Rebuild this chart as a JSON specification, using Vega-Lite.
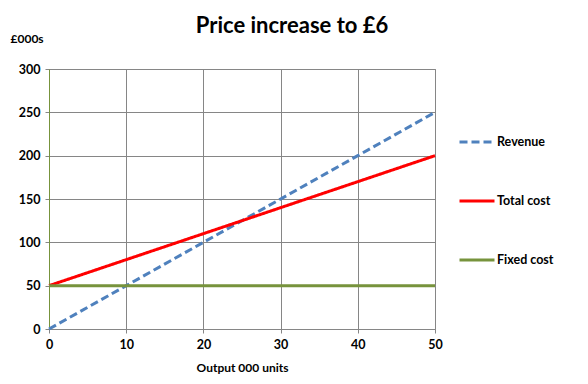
{
  "$schema": "https://vega.github.io/schema/vega-lite/v6.json",
  "width": 386,
  "height": 260,
  "autosize": {"type": "none"},
  "padding": {"left": 49, "top": 69, "right": 153, "bottom": 55},
  "background": "white",
  "title": {
    "text": "Price increase to £6",
    "font": "Lato",
    "fontSize": 22,
    "fontWeight": "bold",
    "color": "black",
    "anchor": "middle",
    "dx": 50,
    "offset": -6
  },
  "data": {
    "values": [
      {"series": "Revenue", "x": 0, "y": 0},
      {"series": "Revenue", "x": 10, "y": 50},
      {"series": "Revenue", "x": 20, "y": 100},
      {"series": "Revenue", "x": 30, "y": 150},
      {"series": "Revenue", "x": 40, "y": 200},
      {"series": "Revenue", "x": 50, "y": 250},
      {"series": "Total cost", "x": 0, "y": 50},
      {"series": "Total cost", "x": 10, "y": 80},
      {"series": "Total cost", "x": 20, "y": 110},
      {"series": "Total cost", "x": 30, "y": 140},
      {"series": "Total cost", "x": 40, "y": 170},
      {"series": "Total cost", "x": 50, "y": 200},
      {"series": "Fixed cost", "x": 0, "y": 50},
      {"series": "Fixed cost", "x": 10, "y": 50},
      {"series": "Fixed cost", "x": 20, "y": 50},
      {"series": "Fixed cost", "x": 30, "y": 50},
      {"series": "Fixed cost", "x": 40, "y": 50},
      {"series": "Fixed cost", "x": 50, "y": 50}
    ]
  },
  "mark": {"type": "line", "strokeWidth": 3},
  "encoding": {
    "x": {
      "field": "x",
      "type": "quantitative",
      "scale": {"domain": [0, 50], "nice": false},
      "axis": {
        "title": "Output 000 units",
        "values": [0, 10, 20, 30, 40, 50],
        "titlePadding": 12,
        "labelFlush": false
      }
    },
    "y": {
      "field": "y",
      "type": "quantitative",
      "scale": {"domain": [0, 300], "nice": false},
      "axis": {
        "title": "£000s",
        "values": [0, 50, 100, 150, 200, 250, 300],
        "labelFlush": false,
        "titleAngle": 0,
        "titleAlign": "left",
        "titleBaseline": "middle",
        "titleX": -39,
        "titleY": -31,
        "domainColor": "#77933C"
      }
    },
    "color": {
      "field": "series",
      "type": "nominal",
      "scale": {
        "domain": ["Revenue", "Total cost", "Fixed cost"],
        "range": ["#4F81BD", "#FF0000", "#77933C"]
      },
      "legend": {
        "title": null,
        "orient": "none",
        "legendX": 409,
        "legendY": 54,
        "symbolType": "stroke",
        "symbolSize": 1225,
        "symbolStrokeWidth": 3,
        "labelFont": "Lato",
        "labelFontSize": 12.5,
        "labelFontWeight": "bold",
        "labelColor": "black",
        "labelOffset": 1,
        "rowPadding": 33
      }
    },
    "strokeDash": {
      "field": "series",
      "type": "nominal",
      "scale": {
        "domain": ["Revenue", "Total cost", "Fixed cost"],
        "range": [[8, 4], [1, 0], [1, 0]]
      },
      "legend": null
    }
  },
  "config": {
    "view": {"stroke": "#868686"},
    "axis": {
      "gridColor": "#868686",
      "gridOpacity": 1,
      "tickColor": "#868686",
      "domainColor": "#868686",
      "tickSize": 4,
      "labelFont": "Lato",
      "labelFontSize": 12.5,
      "labelFontWeight": "bold",
      "labelColor": "black",
      "titleFont": "Lato",
      "titleFontSize": 12,
      "titleFontWeight": "bold",
      "titleColor": "black",
      "labelPadding": 5
    }
  }
}
